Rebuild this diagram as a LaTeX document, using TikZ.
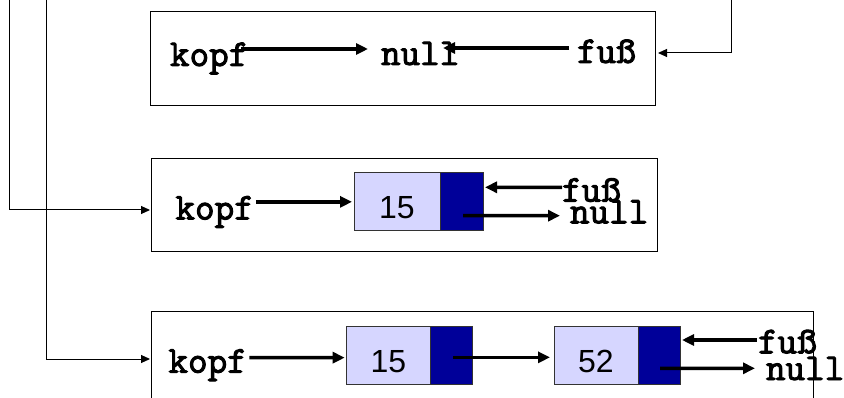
\documentclass[tikz,border=0pt]{standalone}
\usepackage{fontspec}
\setsansfont{Liberation Sans}
\newfontfamily\codefont{Latin Modern Mono}[FakeBold=2.6]
\usetikzlibrary{arrows.meta}
\definecolor{cellfill}{RGB}{214,214,255}
\definecolor{linkfill}{RGB}{0,0,153}
\tikzset{
  frame/.style={draw=black, line width=1pt, inner sep=0pt, outer sep=0pt},
  word/.style={font=\codefont\fontsize{38}{38}\selectfont,
    inner sep=0pt, outer sep=0pt, anchor=base west},
  cell/.style={draw=black!80, line width=1pt, fill=cellfill, inner sep=0pt,
    outer sep=0pt, font=\sffamily\fontsize{32}{32}\selectfont},
  link/.style={draw=black!80, line width=1pt, fill=linkfill, inner sep=0pt,
    outer sep=0pt},
  ptr/.style={line width=3.5pt, -{Triangle[length=12pt,width=11pt]}},
  wire/.style={line width=1pt, -{Triangle[length=9pt,width=8pt]}},
}
\newcommand{\lowered}[1]{\raisebox{-6pt}[\height][\depth]{#1}}
\begin{document}
\begin{tikzpicture}[x=1pt,y=-1pt]
\clip (0,0) rectangle (844,398);
\fill[white] (0,0) rectangle (844,398);

% the three list states
\node[frame, minimum width=505.3pt, minimum height=94pt] (f1) at (402.65,58.7) {};
\node[frame, minimum width=505.3pt, minimum height=93pt] (f2) at (404.35,205.5) {};
\node[frame, minimum width=661.3pt, minimum height=118.3pt] (f3) at (482.35,370.85) {};

% empty list
\node[word] (k1) at (170,66) {kopf};
\node[word] (n1) at (381,65) {null};
\node[word] (u1) at (577,63) {fuß};

% list with one element
\node[word] (k2) at (175.5,219.5) {kopf};
\node[word] (u2) at (562,201.7) {fuß};
\node[word] (n2) at (570,223.3) {null};
\node[cell, minimum width=86pt, minimum height=57.7pt] (d2) at (397,201.85) {\lowered{15}};
\node[link, minimum width=43pt, minimum height=57.7pt, anchor=west] (p2) at (d2.east) {};

% list with two elements
\node[word] (k3) at (168.5,372.7) {kopf};
\node[word] (u3) at (758,353.3) {fuß};
\node[word] (n3) at (766,380) {null};
\node[cell, minimum width=83.3pt, minimum height=57.3pt] (d3a) at (388.35,355.35) {\lowered{15}};
\node[link, minimum width=42pt, minimum height=57.3pt, anchor=west] (p3a) at (d3a.east) {};
\node[cell, minimum width=84pt, minimum height=57.3pt] (d3b) at (596,355.35) {\lowered{52}};
\node[link, minimum width=42pt, minimum height=57.3pt, anchor=west] (p3b) at (d3b.east) {};

% pointers
\draw[ptr] ([shift={(-7pt,17pt)}]k1.base east) -- ([shift={(-13pt,16pt)}]n1.base west);
\draw[ptr] ([shift={(-8pt,15pt)}]u1.base west) -- ([shift={(62pt,17pt)}]n1.base west);

\draw[ptr] ([shift={(2pt,17.65pt)}]k2.base east) -- ([xshift=-2pt]d2.west);
\draw[ptr] ([yshift=14.4pt]u2.base west) -- ([shift={(2pt,-14.3pt)}]p2.north east);
\draw[ptr] ([shift={(1.5pt,-13.85pt)}]p2.center) -- ([shift={(-10pt,7.6pt)}]n2.base west);

\draw[ptr] ([shift={(2.5pt,15pt)}]k3.base east) -- ([shift={(-2pt,-2.3pt)}]d3a.west);
\draw[ptr] ([shift={(2pt,-2pt)}]p3a.center) -- ([shift={(-4pt,-2pt)}]d3b.west);
\draw[ptr] ([shift={(-1.3pt,13.3pt)}]u3.base west) -- ([shift={(2pt,-13.3pt)}]p3b.north east);
\draw[ptr] ([shift={(1pt,-13pt)}]p3b.center) -- ([shift={(-11pt,11.7pt)}]n3.base west);

% lines leading in from above
\coordinate (t1) at (731.7,0);
\coordinate (t2) at (9,0);
\coordinate (t3) at (46.7,0);
\draw[wire] (t1) |- ([shift={(2.7pt,5.7pt)}]f1.east);
\draw[wire] (t2) |- ([shift={(-1.7pt,-4.5pt)}]f2.west);
\draw[wire] (t3) |- ([shift={(-1.7pt,11.85pt)}]f3.west);
\end{tikzpicture}
\end{document}
